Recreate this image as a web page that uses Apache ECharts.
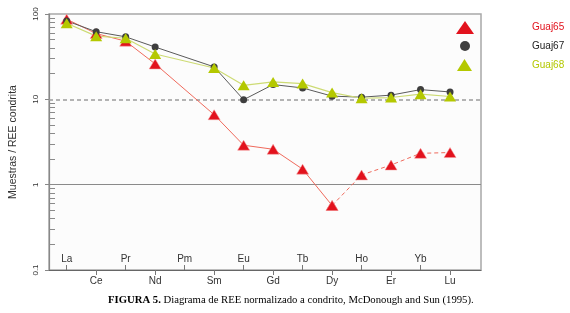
<!DOCTYPE html>
<html>
<head>
<meta charset="utf-8">
<script src="https://cdn.jsdelivr.net/npm/echarts@6/dist/echarts.min.js"></script>
<style>
    html, body { margin: 0; padding: 0; background: #fff; }
    #chart { width: 570px; height: 313px; }
</style>
</head>
<body>
<div id="chart"></div>
<script>
    // REE elements (Pm has no data)
    var elements = ['La', 'Ce', 'Pr', 'Nd', 'Pm', 'Sm', 'Eu', 'Gd', 'Tb', 'Dy', 'Ho', 'Er', 'Yb', 'Lu'];
    var guaj65 = [87, 59, 48, 26, null, 6.6, 2.9, 2.6, 1.52, 0.57, 1.3, 1.7, 2.33, 2.38];
    var guaj67 = [83, 62, 54, 41, null, 24, 9.9, 14.9, 13.6, 10.9, 10.6, 11.2, 13.0, 12.2];
    var guaj68 = [78, 55, 52, 34, null, 23.3, 14.6, 16.0, 15.3, 12.0, 10.3, 10.5, 11.5, 10.8];
    var yTicks = [0.1, 1, 10, 100];
    var yMinorTicks = [0.2, 0.3, 0.4, 0.5, 0.6, 0.7, 0.8, 0.9,
        2, 3, 4, 5, 6, 7, 8, 9,
        20, 30, 40, 50, 60, 70, 80, 90];
    var refLines = [10, 1];

    function pairs(arr, from, to) {
        var out = [];
        for (var i = from; i <= to; i++) {
            if (arr[i] != null) out.push([i, arr[i]]);
        }
        return out;
    }

    // labels alternate: even ones above the axis, odd ones below
    var topIdx = [], bottomIdx = [];
    for (var i = 0; i < elements.length; i++) {
        if (i % 2 == 0) topIdx.push(i); else bottomIdx.push(i);
    }
    var nameOf = function (v) { return elements[Math.round(v)]; };

    var red = '#e2121d', redLine = '#f06a5c';
    var dark = '#3e3e3e', darkLine = '#5a5a5a';
    var green = '#b4c800', greenLine = '#cddb74';

    var mychart = echarts.init(document.getElementById('chart'));
    var option = {
        animation: false,
        textStyle: { fontFamily: 'Liberation Sans' },
        title: {
            text: '{b|FIGURA 5.} Diagrama de REE normalizado a condrito, McDonough and Sun (1995).',
            left: 103,
            top: 290,
            textStyle: {
                fontFamily: 'Liberation Serif',
                fontSize: 10.7,
                fontWeight: 'normal',
                color: '#000',
                rich: {
                    b: { fontFamily: 'Liberation Serif', fontSize: 10.7, fontWeight: 'bold', color: '#000' }
                }
            }
        },
        legend: [
            {
                data: [{ name: 'Guaj65', icon: 'triangle' }],
                left: 451, top: 16, itemWidth: 18, itemHeight: 13,
                itemStyle: { borderWidth: 0 },
                textStyle: { color: red, fontSize: 10, padding: [0, 0, 0, 53] }
            },
            {
                data: [{ name: 'Guaj67', icon: 'circle' }],
                left: 455, top: 36, itemWidth: 10, itemHeight: 10,
                textStyle: { color: '#222', fontSize: 10, padding: [0, 0, 0, 57] }
            },
            {
                data: [{ name: 'Guaj68', icon: 'triangle' }],
                left: 452, top: 54, itemWidth: 15, itemHeight: 12,
                textStyle: { color: green, fontSize: 10, padding: [0, 0, 0, 55] }
            }
        ],
        grid: {
            left: 48, right: 89, top: 14, bottom: 43,
            show: true,
            backgroundColor: '#fcfcfc',
            borderColor: '#a8a8a8',
            borderWidth: 1.5
        },
        xAxis: [
            {
                type: 'value', min: -0.6, max: 14.05, position: 'bottom',
                axisLine: { show: true, onZero: false, lineStyle: { color: '#666' } },
                axisTick: { show: true, customValues: bottomIdx, length: 5, lineStyle: { color: '#777' } },
                axisLabel: { customValues: bottomIdx, formatter: nameOf, fontSize: 10, color: '#333', margin: 6 },
                splitLine: { show: false }
            },
            {
                type: 'value', min: -0.6, max: 14.05, position: 'bottom',
                axisLine: { show: false, onZero: false },
                axisTick: { show: true, inside: true, customValues: topIdx, length: 5, lineStyle: { color: '#777' } },
                axisLabel: { inside: true, customValues: topIdx, formatter: nameOf, fontSize: 10, color: '#333', margin: 6 },
                splitLine: { show: false }
            }
        ],
        yAxis: [
            {
                type: 'log', logBase: 10, min: 0.1, max: 100, position: 'left',
                name: 'Muestras / REE condrita',
                nameLocation: 'middle',
                nameGap: 30,
                nameTextStyle: { fontSize: 10.5, color: '#333' },
                axisLine: { show: true, onZero: false, lineStyle: { color: '#888', width: 1.2 } },
                axisTick: { show: true, inside: true, customValues: yMinorTicks, length: 6, lineStyle: { color: '#8a8a8a', width: 1 } },
                axisLabel: {
                    customValues: yTicks, rotate: 90, fontSize: 8, color: '#333', margin: 9,
                    formatter: function (v) { return String(v); }
                },
                splitLine: { show: false },
                minorTick: { show: false }
            },
            {
                // bigger outer ticks at the decades
                type: 'log', logBase: 10, min: 0.1, max: 100, position: 'left',
                axisLine: { show: false, onZero: false },
                axisTick: { show: true, customValues: yTicks, length: 4, lineStyle: { color: '#888' } },
                axisLabel: { show: false },
                splitLine: { show: false }
            }
        ],
        series: [
            {
                name: 'Guaj65', type: 'line',
                data: pairs(guaj65, 0, 9),
                symbol: 'triangle', symbolSize: [12, 10],
                itemStyle: { color: red, borderColor: '#f59a9a', borderWidth: 0.5 },
                lineStyle: { color: redLine, width: 1 },
                markLine: {
                    silent: true, symbol: 'none', z: 1,
                    label: { show: false },
                    data: [
                        { yAxis: refLines[0], lineStyle: { type: [4, 3], color: '#9a9a9a', width: 1.5 } },
                        { yAxis: refLines[1], lineStyle: { type: 'solid', color: '#8a8a8a', width: 1.2 } }
                    ]
                }
            },
            {
                name: 'Guaj65', type: 'line',
                data: pairs(guaj65, 9, 13),
                symbol: 'triangle', symbolSize: [12, 10],
                itemStyle: { color: red, borderColor: '#f59a9a', borderWidth: 0.5 },
                lineStyle: { color: redLine, width: 1, type: [4, 3] }
            },
            {
                name: 'Guaj67', type: 'line',
                data: pairs(guaj67, 0, 13),
                symbol: 'circle', symbolSize: 7,
                itemStyle: { color: dark },
                lineStyle: { color: darkLine, width: 1 }
            },
            {
                name: 'Guaj68', type: 'line',
                data: pairs(guaj68, 0, 13),
                symbol: 'triangle', symbolSize: [12, 10],
                itemStyle: { color: green },
                lineStyle: { color: greenLine, width: 1.2 }
            }
        ]
    };
    mychart.setOption(option);
</script>
</body>
</html>
